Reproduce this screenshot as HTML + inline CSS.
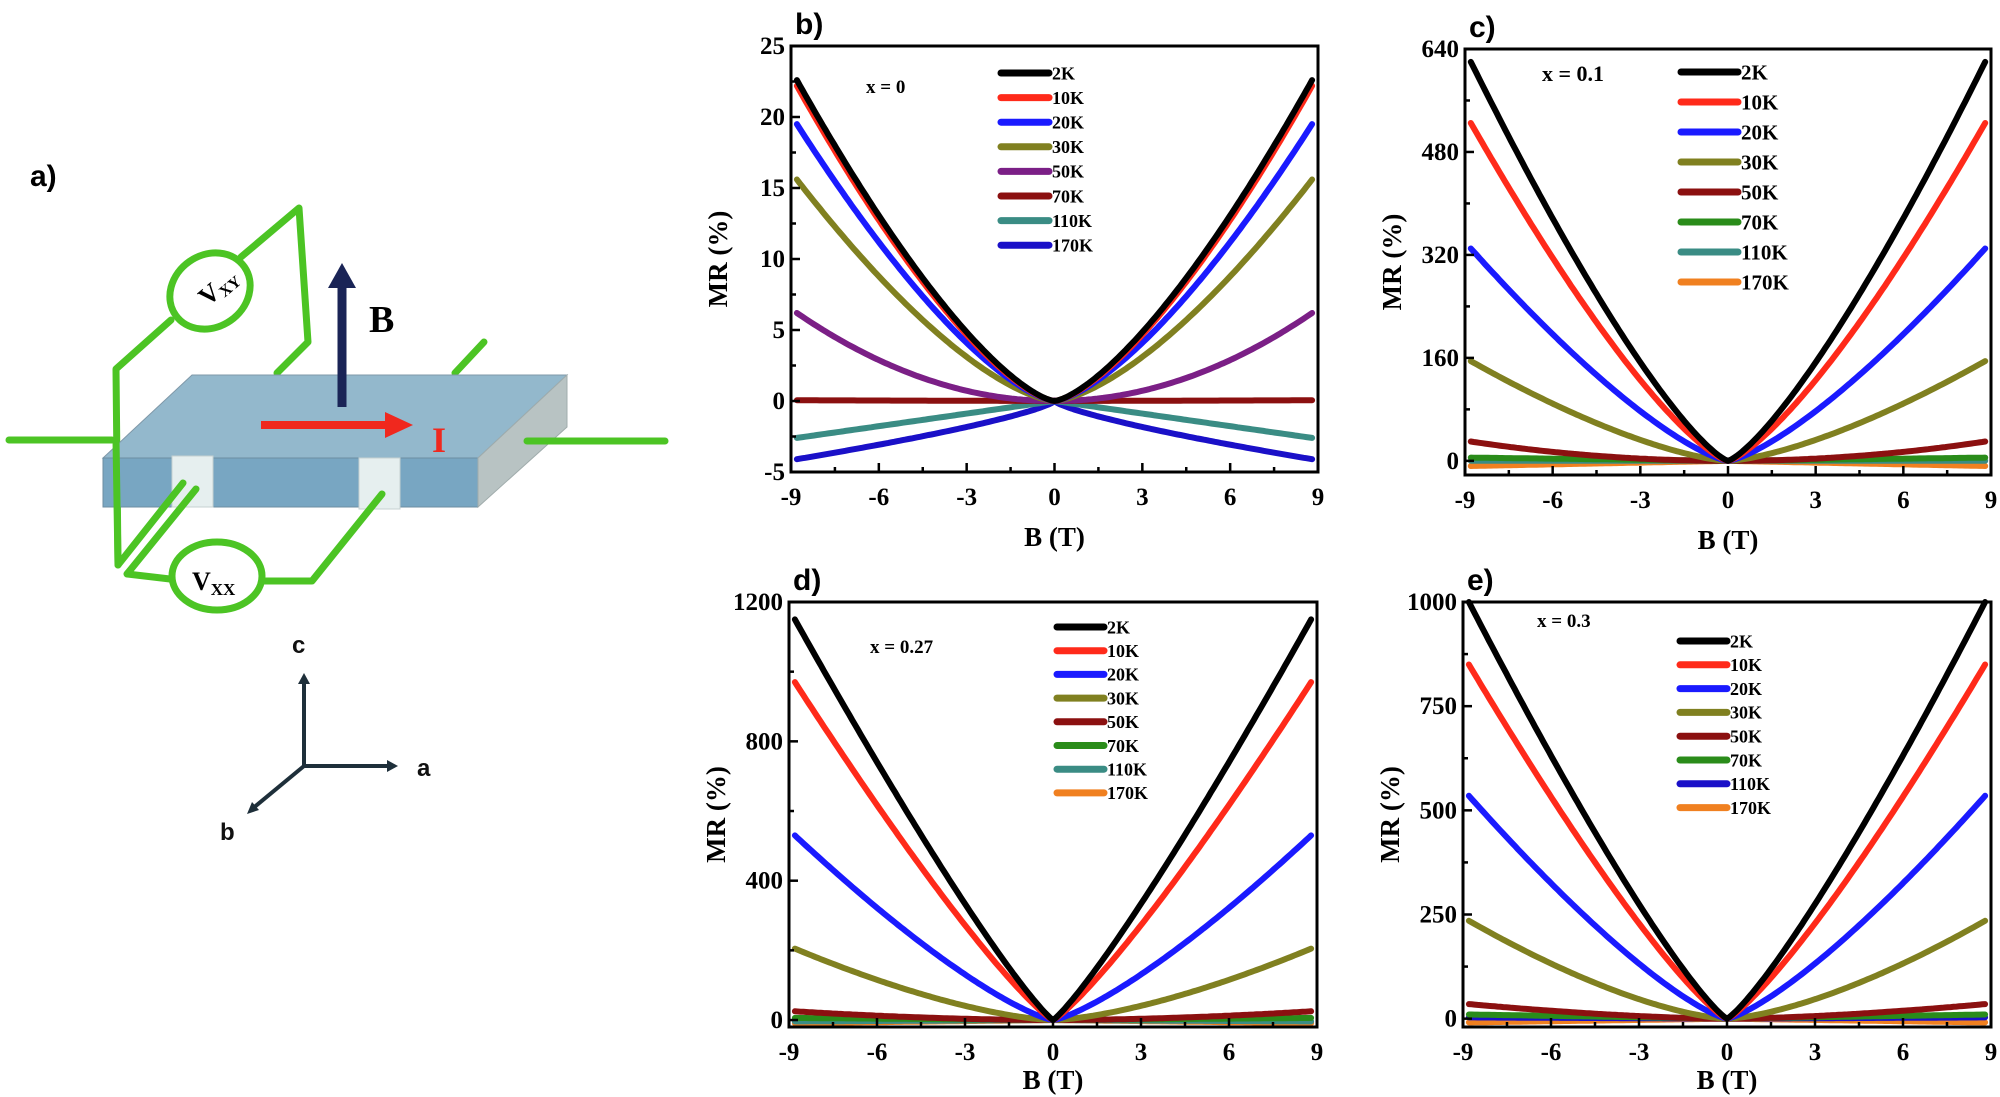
<!DOCTYPE html>
<html><head><meta charset="utf-8"><style>
html,body{margin:0;padding:0;background:#fff;}
svg{display:block;}
</style></head><body>
<svg id="s" width="2000" height="1097" viewBox="0 0 2000 1097" xmlns="http://www.w3.org/2000/svg">
<rect width="2000" height="1097" fill="#fff"/>
<text x="30" y="186" font-family="Liberation Sans, sans-serif" font-weight="bold" font-size="30">a)</text>
<g stroke="#4cc424" stroke-width="7" fill="none" stroke-linecap="round" stroke-linejoin="round">
<polyline points="9,440 112,440"/>
<polyline points="118,565 116,369 171,320"/>
<polyline points="241,257 299,208 308,342 277,373"/>
<polyline points="484,342 455,373"/>
</g>
<polygon points="192,375 567,375 478,458 103,458" fill="#93b8cc" stroke="#7f98a8" stroke-width="1"/>
<polygon points="103,458 478,458 478,507 103,507" fill="#78a6c2" stroke="#6d8ea2" stroke-width="1"/>
<polygon points="478,458 567,375 567,427 478,507" fill="#b8c3c3" stroke="#a0acac" stroke-width="1"/>
<rect x="172" y="456" width="41" height="51" fill="#e6efef" stroke="#c5d0d0"/>
<rect x="359" y="458" width="41" height="51" fill="#e6efef" stroke="#c5d0d0"/>
<g stroke="#4cc424" stroke-width="7" fill="none" stroke-linecap="round" stroke-linejoin="round">
<polyline points="527,441 665,441"/>
<polyline points="116,440 118,565 183,483"/>
<polyline points="196,489 127,574 170,579"/>
<polyline points="263,581 312,581 382,494"/>
<ellipse cx="210" cy="291" rx="42" ry="36" transform="rotate(-35 210 291)" fill="#fff"/>
<ellipse cx="217" cy="576" rx="45" ry="34" fill="#fff"/>
</g>
<text x="200" y="306" font-family="Liberation Serif, serif" font-weight="bold" font-size="26" transform="rotate(-40 205 296)">V<tspan font-size="16" dy="4">XY</tspan></text>
<text x="192" y="590" font-family="Liberation Serif, serif" font-weight="bold" font-size="26">V<tspan font-size="17" dy="5">XX</tspan></text>
<line x1="342" y1="407" x2="342" y2="285" stroke="#1a2456" stroke-width="9"/>
<polygon points="342,263 328,288 356,288" fill="#1a2456"/>
<text x="369" y="332" font-family="Liberation Serif, serif" font-weight="bold" font-size="38">B</text>
<line x1="261" y1="425" x2="392" y2="425" stroke="#f0281e" stroke-width="8"/>
<polygon points="413,425 385,412 385,438" fill="#f0281e"/>
<text x="432" y="452" font-family="Liberation Serif, serif" font-weight="bold" font-size="36" fill="#f0281e">I</text>
<g stroke="#1e2f3a" stroke-width="4" fill="none">
<line x1="304" y1="766" x2="304" y2="680"/><line x1="304" y1="766" x2="392" y2="766"/><line x1="304" y1="766" x2="252" y2="809"/>
</g>
<polygon points="304,673 298,684 310,684" fill="#1e2f3a"/>
<polygon points="398,766 387,760 387,772" fill="#1e2f3a"/>
<polygon points="247,814 252,802 259,810" fill="#1e2f3a"/>
<g font-family="Liberation Sans, sans-serif" font-weight="bold" font-size="24" fill="#111">
<text x="292" y="653">c</text><text x="417" y="776">a</text><text x="220" y="840">b</text>
</g>
<g id="plots"></g>
</svg>
<script>
const NS="http://www.w3.org/2000/svg";
const g=document.getElementById('plots');
function el(t,a,txt){const e=document.createElementNS(NS,t);for(const k in a)e.setAttribute(k,a[k]);if(txt!==undefined)e.textContent=txt;g.appendChild(e);return e;}
const panels=[
 {lab:'b)',x0:791,x1:1318,y0:46,y1:472,ymin:-5,ymax:25,ticks:[-5,0,5,10,15,20,25],minor:2.5,xt:'x = 0',xtx:866,xty:93,bt:74,
  lx:1001,lw:48,ly:73,ld:24.6,lfs:18,
  s:[['2K','#000',22.6,1.43],['10K','#ff2a1a',22.2,1.45],['20K','#1a1aff',19.5,1.45],['30K','#808020',15.6,1.5],['50K','#7b1f86',6.2,2.0],['70K','#8b1010',0.05,1],['110K','#3a8c84',-2.6,1.0],['170K','#1a10c8',-4.1,0.75]]},
 {lab:'c)',x0:1465,x1:1991,y0:49,y1:475,ymin:-22,ymax:640,ticks:[0,160,320,480,640],minor:80,xt:'x = 0.1',xtx:1542,xty:81,bt:74,
  lx:1681,lw:57,ly:72,ld:30,lfs:21,
  s:[['2K','#000',620,1.3],['10K','#ff2a1a',525,1.33],['20K','#1a1aff',330,1.35],['30K','#808020',155,1.45],['50K','#8b1010',30,2.0],['70K','#2a8c1a',5,1],['110K','#3a8c84',0,1],['170K','#f08020',-8,1]]},
 {lab:'d)',x0:789,x1:1317,y0:602,y1:1027,ymin:-20,ymax:1200,ticks:[0,400,800,1200],minor:200,xt:'x = 0.27',xtx:870,xty:653,bt:62,
  lx:1057,lw:47,ly:627,ld:23.7,lfs:18,
  s:[['2K','#000',1150,1.15],['10K','#ff2a1a',970,1.18],['20K','#1a1aff',530,1.3],['30K','#808020',205,1.5],['50K','#8b1010',25,1.8],['70K','#2a8c1a',6,1],['110K','#3a8c84',-4,1],['170K','#f08020',-9,1]]},
 {lab:'e)',x0:1463,x1:1991,y0:602,y1:1027,ymin:-20,ymax:1000,ticks:[0,250,500,750,1000],minor:125,xt:'x = 0.3',xtx:1537,xty:627,bt:62,
  lx:1680,lw:47,ly:641,ld:23.8,lfs:18,
  s:[['2K','#000',1000,1.2],['10K','#ff2a1a',850,1.22],['20K','#1a1aff',535,1.3],['30K','#808020',235,1.5],['50K','#8b1010',35,1.6],['70K','#2a8c1a',10,1],['110K','#1a10c8',3,1],['170K','#f08020',-9,1]]}
];
for(const p of panels){
 const X=v=>p.x0+(v+9)/18*(p.x1-p.x0);
 const Y=v=>p.y1-(v-p.ymin)/(p.ymax-p.ymin)*(p.y1-p.y0);
 for(let i=p.s.length-1;i>=0;i--){const [n,c,a,pw]=p.s[i];let d='';
  for(let k=0;k<=180;k++){const b=-8.8+17.6*k/180;const v=a*Math.pow(Math.abs(b)/8.8,pw);d+=(k?'L':'M')+X(b).toFixed(1)+','+Y(v).toFixed(1);}
  el('path',{d:d,stroke:c,'stroke-width':6,fill:'none','stroke-linecap':'round'});}
 el('rect',{x:p.x0,y:p.y0,width:p.x1-p.x0,height:p.y1-p.y0,fill:'none',stroke:'#000','stroke-width':3});
 for(let v=-9;v<=9;v+=1.5){const maj=(v%3===0);const x=X(v);
  el('line',{x1:x,x2:x,y1:p.y1,y2:p.y1-(maj?9:5),stroke:'#000','stroke-width':2.5});
  if(maj)el('text',{x:x,y:p.y1+33,'text-anchor':'middle','font-family':'Liberation Serif, serif','font-weight':'bold','font-size':25},String(v));}
 for(let v=p.ticks[0];v<=p.ymax+0.01;v+=p.minor){const maj=p.ticks.some(t=>Math.abs(t-v)<1e-6);const y=Y(v);
  el('line',{x1:p.x0,x2:p.x0+(maj?9:5),y1:y,y2:y,stroke:'#000','stroke-width':2.5});
  if(maj)el('text',{x:p.x0-6,y:y+8,'text-anchor':'end','font-family':'Liberation Serif, serif','font-weight':'bold','font-size':25},String(v));}
 const cx=(p.x0+p.x1)/2;
 el('text',{x:cx,y:p.y1+p.bt,'text-anchor':'middle','font-family':'Liberation Serif, serif','font-weight':'bold','font-size':27},'B (T)');
 const tx=p.x0-64, ty=(p.y0+p.y1)/2;
 el('text',{x:tx,y:ty,'text-anchor':'middle','font-family':'Liberation Serif, serif','font-weight':'bold','font-size':27,transform:`rotate(-90 ${tx} ${ty})`},'MR (%)');
 el('text',{x:p.x0+4,y:p.y0-12,'font-family':'Liberation Sans, sans-serif','font-weight':'bold','font-size':30},p.lab);
 el('text',{x:p.xtx,y:p.xty,'font-family':'Liberation Serif, serif','font-weight':'bold','font-size':p.lfs+1},p.xt);
 p.s.forEach((s,i)=>{const y=p.ly+i*p.ld;
  el('line',{x1:p.lx,x2:p.lx+p.lw,y1:y,y2:y,stroke:s[1],'stroke-width':7,'stroke-linecap':'round'});
  el('text',{x:p.lx+p.lw+3,y:y+p.lfs*0.35,'font-family':'Liberation Serif, serif','font-weight':'bold','font-size':p.lfs},s[0]);});
}
</script>
</body></html>
